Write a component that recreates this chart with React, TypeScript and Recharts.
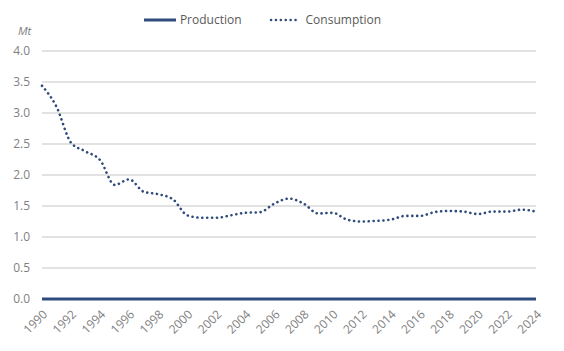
import { CartesianGrid, Line, LineChart, XAxis, YAxis } from 'recharts'

const years = [
  '1990', '1991', '1992', '1993', '1994', '1995', '1996', '1997', '1998', '1999',
  '2000', '2001', '2002', '2003', '2004', '2005', '2006', '2007', '2008', '2009',
  '2010', '2011', '2012', '2013', '2014', '2015', '2016', '2017', '2018', '2019',
  '2020', '2021', '2022', '2023', '2024',
]

const production = [
  0, 0, 0, 0, 0, 0, 0, 0, 0, 0,
  0, 0, 0, 0, 0, 0, 0, 0, 0, 0,
  0, 0, 0, 0, 0, 0, 0, 0, 0, 0,
  0, 0, 0, 0, 0,
]

const consumption = [
  3.44, 3.1, 2.52, 2.38, 2.24, 1.84, 1.93, 1.73, 1.69, 1.61,
  1.35, 1.31, 1.31, 1.35, 1.39, 1.4, 1.54, 1.62, 1.54, 1.38,
  1.39, 1.28, 1.25, 1.26, 1.28, 1.34, 1.34, 1.4, 1.42, 1.41,
  1.37, 1.41, 1.41, 1.44, 1.41,
]

const yTicks = [0, 0.5, 1, 1.5, 2, 2.5, 3, 3.5, 4]

const data = years.map((year, i) => ({
  year,
  production: production[i],
  consumption: consumption[i],
}))

const blue = '#2f4b7c'
const font = "'Open Sans', sans-serif"

function LegendBox() {
  return (
    <div style={{ position: 'absolute', left: 0, top: 11, width: 524, display: 'flex', justifyContent: 'center', fontFamily: font, fontSize: 12, color: '#595959' }}>
      <div style={{ display: 'flex', alignItems: 'center', marginRight: 27 }}>
        <svg width={34} height={6} style={{ marginRight: 3 }}>
          <line x1={1} y1={3} x2={33} y2={3} stroke={blue} strokeWidth={3} />
        </svg>
        Production
      </div>
      <div style={{ display: 'flex', alignItems: 'center' }}>
        <svg width={33} height={6} style={{ marginRight: 4 }}>
          <line x1={2} y1={3} x2={31} y2={3} stroke={blue} strokeWidth={2.5} strokeLinecap='round' strokeDasharray='0.1 4.8' />
        </svg>
        Consumption
      </div>
    </div>
  )
}

export default function App() {
  return (
    <div style={{ position: 'absolute', top: 0, left: 0, width: 564, height: 351, background: '#fff' }}>
      <LegendBox />
      <div style={{ position: 'absolute', left: 18, top: 23, fontFamily: font, fontSize: 11.5, fontStyle: 'italic', color: '#7f7f7f' }}>
        Mt
      </div>
      <LineChart width={564} height={351} data={data} margin={{ top: 51, right: 28, left: 0, bottom: 0 }}>
        <CartesianGrid vertical={false} stroke='#d9d9d9' strokeWidth={1.3} />
        <XAxis
          dataKey='year'
          interval={1}
          tickLine={false}
          axisLine={false}
          height={52}
          angle={-45}
          textAnchor='end'
          tick={{ fill: '#7f7f7f', fontSize: 12, fontFamily: font }}
          dy={2}
        />
        <YAxis
          width={42}
          domain={[0, 4]}
          ticks={yTicks}
          tickFormatter={(v: number) => v.toFixed(1)}
          tickLine={false}
          axisLine={false}
          tick={{ fill: '#7f7f7f', fontSize: 12, fontFamily: font }}
          dx={-4}
        />
        <Line
          dataKey='production'
          name='Production'
          stroke={blue}
          strokeWidth={3}
          dot={false}
          isAnimationActive={false}
        />
        <Line
          type='monotone'
          dataKey='consumption'
          name='Consumption'
          stroke={blue}
          strokeWidth={2.6}
          strokeLinecap='round'
          strokeDasharray='0.1 4.8'
          dot={false}
          isAnimationActive={false}
        />
      </LineChart>
    </div>
  )
}
